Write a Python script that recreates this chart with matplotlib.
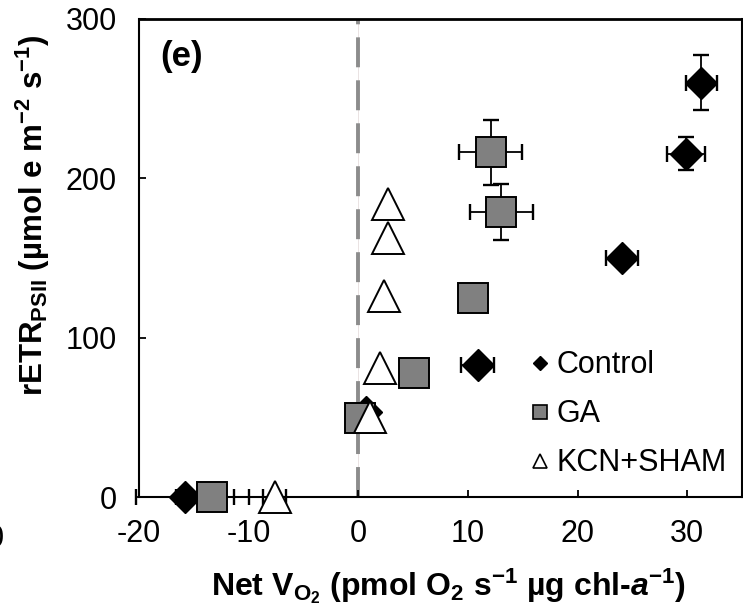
import matplotlib
matplotlib.use("Agg")
import matplotlib.pyplot as plt
from matplotlib.lines import Line2D

plt.rcParams['font.family'] = ['Liberation Sans', 'DejaVu Sans']
plt.rcParams['axes.unicode_minus'] = False
plt.rcParams['mathtext.fontset'] = 'custom'
plt.rcParams['mathtext.rm'] = 'Liberation Sans'
plt.rcParams['mathtext.it'] = 'Liberation Sans:italic'
plt.rcParams['mathtext.bf'] = 'Liberation Sans:bold'
plt.rcParams['mathtext.bfit'] = 'Liberation Sans:italic:bold'

# data
ctrl_x = [-15.8, 0.7, 10.9, 24.05, 29.9, 31.3]
ctrl_y = [0, 53.4, 82.6, 150, 215.5, 260]
ctrl_xerr = [4.5, 0, 1.5, 1.5, 1.75, 1.4]
ctrl_yerr = [0, 0, 0, 0, 10.3, 17.4]

ga_x = [-13.3, 0.14, 5.06, 10.47, 13.05, 12.08]
ga_y = [0, 49.7, 77.9, 124.6, 178.9, 216.3]
ga_xerr = [3.3, 0, 0, 0, 2.9, 2.85]
ga_yerr = [0, 0, 0, 0, 17.3, 20.5]

kcn_x = [-7.6, 1.08, 2.0, 2.37, 2.67, 2.67]
kcn_y = [0, 50, 80.9, 126, 162.7, 184]
kcn_xerr = [1.05, 0, 0, 0, 0, 0]
kcn_yerr = [0, 0, 0, 0, 0, 0]

labels = ['Control', 'GA', 'KCN+SHAM']
xticks = [-20, -10, 0, 10, 20, 30]
yticks = [0, 100, 200, 300]

fig = plt.figure(figsize=(7.43, 6.10), dpi=100)
ax = fig.add_axes([0.187, 0.1852, 0.8117, 0.7837])

ax.axvline(0, color='#e6dede', lw=0.6, zorder=0)
ax.axvline(0, color='#8c8c8c', lw=2.8, dashes=(7.7, 3.35), zorder=1)

series = [
    (ctrl_x, ctrl_y, ctrl_xerr, ctrl_yerr, dict(marker='D', ms=16, mfc='black', mec='black', mew=1)),
    (ga_x, ga_y, ga_xerr, ga_yerr, dict(marker='s', ms=21.5, mfc='#808080', mec='black', mew=1.4)),
    (kcn_x, kcn_y, kcn_xerr, kcn_yerr, dict(marker='^', ms=22.5, mfc='white', mec='black', mew=1.4)),
]
for i, (x, y, xe, ye, st) in enumerate(series):
    eb = ax.errorbar(x, y, xerr=xe, yerr=ye, fmt='none', ecolor='black',
                     elinewidth=1.3, capsize=6, capthick=1.7, zorder=2)
    for a in eb.lines[1] + eb.lines[2]:
        a.set_clip_on(False)
    ax.plot(x, y, linestyle='none', zorder=3 + i, clip_on=False, **st)

ax.set_xlim(-20, 35)
ax.set_ylim(0, 300)
ax.set_xticks(xticks)
ax.set_yticks(yticks)
ax.tick_params(direction='in', length=5, width=1.3, labelsize=22)
ax.tick_params(axis='x', pad=16)
ax.tick_params(axis='y', pad=16)
for s in ax.spines.values():
    s.set_linewidth(1.5)
ax.spines['top'].set_linewidth(2)

handles = [
    Line2D([], [], marker='D', color='black', ms=7.6, linestyle='none'),
    Line2D([], [], marker='s', mfc='#808080', mec='black', mew=1.2, ms=10, linestyle='none'),
    Line2D([], [], marker='^', mfc='white', mec='black', mew=1.2, ms=10, linestyle='none'),
]
ax.legend(handles, labels, loc='center left', bbox_to_anchor=(0.647, 0.173),
          frameon=False, fontsize=22, handlelength=0.7, handletextpad=0.2,
          labelspacing=0.62, borderpad=0, borderaxespad=0)

fig.text(0.245, 0.908, '(e)', fontsize=25, fontweight='bold', ha='center', va='center')
fig.text(-0.006, 0.116, '0', fontsize=22, ha='center', va='center')

fig.text(0.604, 0.0246,
         r'Net V$_{\mathbf{O_2}}$ (pmol O$_\mathbf{2}$ s$^{\mathbf{-1}}$ µg chl-$\mathbfit{a}$$^{\mathbf{-1}}$)',
         fontsize=23, fontweight='bold', ha='center', va='baseline')
fig.text(43 / 743, (610 - 215) / 610,
         r'rETR$_{\mathbf{PSII}}$ (µmol e m$^{\mathbf{-2}}$ s$^{\mathbf{-1}}$)',
         fontsize=22.5, fontweight='bold', rotation=90, rotation_mode='anchor',
         ha='center', va='baseline')

fig.savefig('out.png', dpi=100)
